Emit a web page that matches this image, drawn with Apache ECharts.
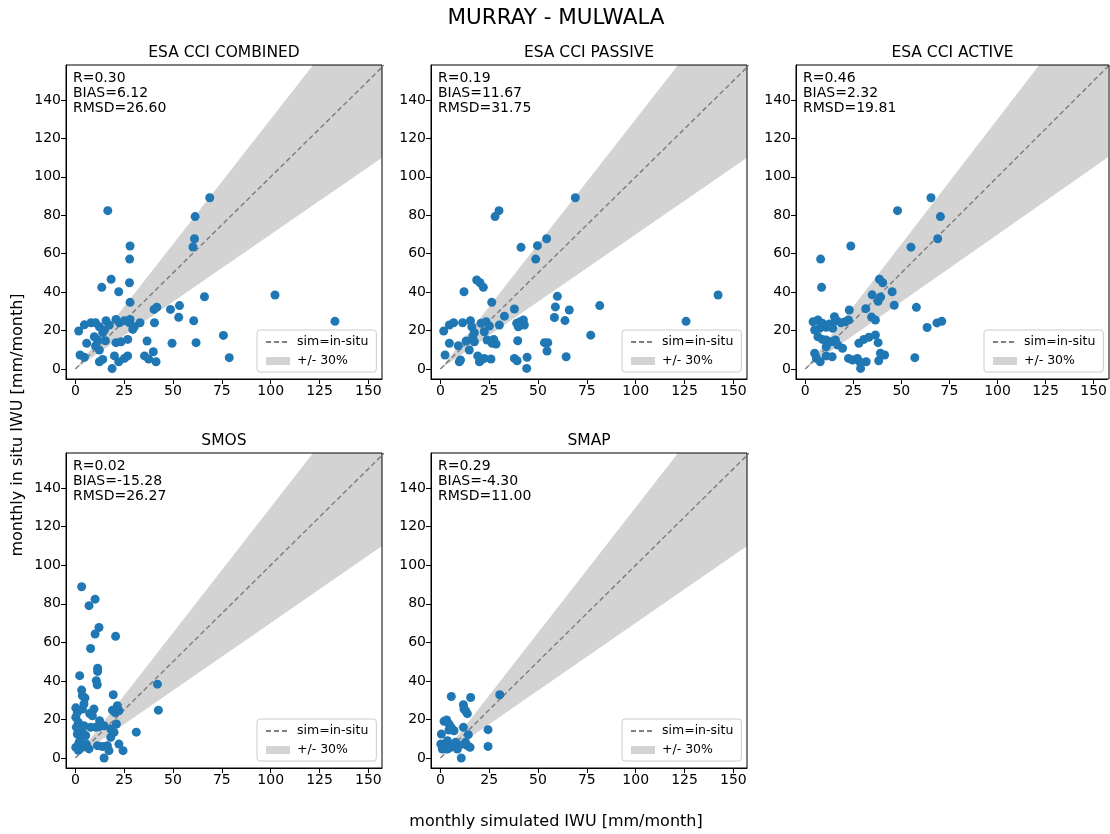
<!DOCTYPE html>
<html>
<head>
<meta charset="utf-8">
<script src="https://cdn.jsdelivr.net/npm/echarts@6/dist/echarts.min.js"></script>
<style>
html,body{margin:0;padding:0;background:#fff;}
#chart{width:1110px;height:834px;}
</style>
</head>
<body>
<div id="chart"></div>
<script>
// ---------------- DATA ----------------
const figureTitle = 'MURRAY - MULWALA';
const xAxisTitle = 'monthly simulated IWU [mm/month]';
const yAxisTitle = 'monthly in situ IWU [mm/month]';
const panelNames = ['ESA CCI COMBINED', 'ESA CCI PASSIVE', 'ESA CCI ACTIVE', 'SMOS', 'SMAP'];
const statR = ['0.30', '0.19', '0.46', '0.02', '0.29'];
const statBias = ['6.12', '11.67', '2.32', '-15.28', '-4.30'];
const statRmsd = ['26.60', '31.75', '19.81', '26.27', '11.00'];
const xTicks = [0, 25, 50, 75, 100, 125, 150];
const yTicks = [0, 20, 40, 60, 80, 100, 120, 140];
const identityX = [0, 160];
const bandLow = 0.7;
const bandHigh = 1.3;
const lineLegend = 'sim=in-situ';
const bandLegend = '+/- 30%';

const combinedPts = [[16.6,82.4],[68.8,89.1],[61.3,79.3],[61.0,67.8],[60.2,63.5],[28.0,64.0],[27.8,57.2],[18.3,46.7],[27.7,44.9],[13.5,42.5],[22.2,40.2],[66.1,37.6],[102.2,38.5],[28.0,34.7],[40.3,31.0],[41.7,32.2],[53.3,33.0],[48.7,31.0],[52.9,26.9],[60.6,25.1],[132.9,24.8],[40.5,24.1],[33.1,24.1],[1.7,19.8],[4.6,23.0],[8.0,24.1],[10.3,24.1],[12.3,22.0],[15.7,25.1],[14.9,20.3],[20.8,25.8],[22.5,24.1],[25.1,25.1],[27.7,24.1],[28.0,25.8],[30.2,22.0],[29.4,20.6],[17.4,22.9],[14.0,18.9],[9.7,16.8],[11.4,15.1],[15.4,14.7],[5.8,13.4],[20.8,13.7],[23.4,14.2],[26.8,15.4],[36.7,14.6],[49.5,13.4],[61.8,13.7],[75.8,17.5],[10.3,12.0],[12.3,9.9],[2.4,7.3],[4.6,6.1],[14.0,5.0],[12.3,3.8],[20.0,6.8],[22.2,3.8],[25.1,5.5],[26.8,6.8],[35.4,6.8],[39.9,9.0],[37.5,5.2],[41.3,3.8],[18.8,0.2],[78.8,5.9]];
const passivePts = [[69.1,89.1],[30.0,82.4],[28.0,79.3],[54.4,67.8],[49.7,64.2],[41.3,63.3],[48.8,57.2],[18.6,46.3],[20.3,44.9],[22.0,42.5],[12.1,40.2],[26.3,34.7],[59.9,37.8],[58.9,32.3],[81.6,33.0],[66.0,30.7],[142.2,38.5],[37.9,31.2],[32.8,27.5],[58.4,26.8],[63.8,25.2],[125.8,24.8],[77.0,17.6],[39.1,23.8],[40.8,24.6],[42.5,25.5],[39.9,22.0],[43.0,22.9],[30.2,22.9],[1.7,19.8],[4.6,22.9],[6.8,24.1],[11.4,24.1],[15.4,25.1],[16.1,22.0],[20.8,23.8],[23.4,24.6],[25.1,22.4],[22.5,19.4],[17.4,18.9],[16.6,16.8],[17.4,14.2],[13.2,14.6],[9.2,12.1],[4.6,13.4],[23.9,15.1],[27.3,15.4],[28.5,13.0],[26.5,13.4],[39.6,14.7],[53.3,13.7],[55.0,13.7],[54.6,9.4],[64.4,6.4],[44.4,6.1],[44.2,0.3],[37.9,5.5],[39.3,4.3],[2.4,7.3],[10.3,4.7],[9.7,3.8],[19.1,6.8],[20.8,4.7],[22.5,5.5],[20.0,3.8],[25.9,5.2],[14.8,9.9]];
const activePts = [[65.4,89.1],[48.0,82.4],[70.3,79.3],[68.9,67.8],[55.0,63.4],[23.7,64.0],[8.0,57.2],[8.5,42.5],[38.6,46.7],[40.3,44.9],[45.2,40.2],[34.8,38.6],[37.9,35.2],[39.2,37.5],[46.3,33.2],[57.8,32.1],[31.5,31.4],[22.9,30.7],[34.5,27.0],[36.5,25.5],[63.4,21.6],[68.5,24.0],[71.0,24.8],[57.0,5.9],[4.1,24.6],[6.6,25.5],[8.9,23.8],[7.5,21.2],[4.9,20.3],[10.9,21.7],[12.6,23.4],[15.2,27.2],[16.4,25.1],[18.6,24.1],[20.8,24.6],[22.5,25.5],[14.3,21.2],[6.6,16.8],[8.9,15.4],[10.9,15.1],[13.5,14.2],[15.7,15.1],[16.9,12.5],[19.4,10.8],[10.9,11.6],[4.9,8.2],[5.8,5.5],[7.8,3.8],[10.9,6.8],[14.0,6.4],[22.5,5.5],[24.6,4.7],[27.1,5.5],[28.3,3.8],[28.8,0.3],[31.7,3.8],[27.9,13.4],[30.5,15.4],[33.1,16.5],[36.5,17.7],[37.9,13.7],[39.1,8.2],[41.3,7.3],[38.2,4.3]];
const smosPts = [[3.2,88.8],[10.1,82.4],[7.0,79.0],[12.1,67.7],[10.1,64.3],[20.6,63.1],[7.8,56.8],[11.4,46.6],[11.4,44.9],[10.7,40.1],[11.2,38.0],[2.2,42.7],[42.0,38.3],[3.2,35.2],[3.6,32.3],[4.9,31.1],[19.4,32.8],[42.5,24.8],[0.2,26.0],[1.0,23.6],[0.2,21.1],[1.5,18.5],[4.4,28.0],[3.6,25.4],[7.3,23.1],[9.5,25.4],[8.7,21.9],[19.0,24.8],[21.5,27.1],[22.3,24.5],[20.3,23.6],[12.4,19.3],[21.0,17.6],[18.1,15.0],[19.8,13.3],[18.1,10.7],[4.4,16.7],[7.8,15.9],[10.4,15.9],[12.1,16.2],[14.7,16.7],[31.2,13.4],[1.0,12.4],[3.6,13.3],[2.7,10.7],[5.3,11.6],[1.9,8.1],[0.2,5.5],[3.2,5.5],[5.6,7.2],[7.0,4.7],[11.3,6.4],[13.8,5.9],[16.4,6.4],[17.2,3.8],[22.3,7.2],[24.4,3.8],[14.7,0.0],[1.5,4.0],[0.5,16.0]];
const smapPts = [[5.6,31.9],[15.5,31.4],[30.4,32.8],[11.8,27.6],[12.9,24.5],[13.8,23.0],[12.1,25.4],[1.9,19.0],[3.2,19.7],[4.4,17.6],[6.1,15.0],[7.0,14.1],[4.4,14.5],[5.3,16.1],[0.5,12.4],[11.8,15.9],[14.3,12.1],[24.4,14.7],[24.4,6.0],[0.2,7.2],[1.9,6.4],[1.0,4.6],[3.6,4.6],[2.7,7.2],[5.3,5.5],[8.7,4.6],[9.5,6.4],[12.1,7.2],[13.8,6.4],[15.2,5.5],[12.9,8.1],[7.8,8.1],[10.7,0.0],[3.6,9.0]];
const panelPoints = [combinedPts, passivePts, activePts, smosPts, smapPts];

// ---------------- LAYOUT / STYLE ----------------
const FONT = 'DejaVu Sans';
const grids = [
  {left: 66, top: 65, width: 316, height: 314},
  {left: 431, top: 65, width: 316, height: 314},
  {left: 796, top: 65, width: 313, height: 314},
  {left: 66, top: 453, width: 316, height: 315},
  {left: 431, top: 453, width: 316, height: 315}
];
const xRange = [-4.8, 157];
const yRange = [-5.2, 158.2];
const dotColor = '#1f77b4';
const bandColor = '#d3d3d3';
const lineColor = '#808080';

const chart = echarts.init(document.getElementById('chart'), null, {renderer: 'canvas'});

const option = {
  backgroundColor: '#ffffff',
  animation: false,
  textStyle: {fontFamily: FONT},
  grid: grids.map(g => ({left: g.left, top: g.top, width: g.width, height: g.height, containLabel: false})),
  xAxis: grids.map((g, i) => ({
    type: 'value', gridIndex: i, min: xRange[0], max: xRange[1],
    axisLine: {show: true, onZero: false, lineStyle: {color: '#000', width: 1}},
    axisTick: {show: true, length: 5, customValues: xTicks, lineStyle: {color: '#000', width: 1}},
    axisLabel: {customValues: xTicks, color: '#000', fontSize: 14, fontFamily: FONT, margin: 5, showMinLabel: true, showMaxLabel: true},
    splitLine: {show: false}
  })),
  yAxis: grids.map((g, i) => ({
    type: 'value', gridIndex: i, min: yRange[0], max: yRange[1],
    axisLine: {show: true, onZero: false, lineStyle: {color: '#000', width: 1}},
    axisTick: {show: true, length: 5, customValues: yTicks, lineStyle: {color: '#000', width: 1}},
    axisLabel: {customValues: yTicks, color: '#000', fontSize: 14, fontFamily: FONT, margin: 5},
    splitLine: {show: false}
  })),
  legend: grids.map(g => ({
    orient: 'vertical',
    left: g.left + g.width - 125,
    top: g.top + g.height - 49,
    padding: [5, 8, 4, 8],
    itemGap: 5,
    itemWidth: 24,
    itemHeight: 8,
    backgroundColor: 'rgba(255,255,255,0.8)',
    borderColor: '#cccccc',
    borderWidth: 1,
    borderRadius: 3,
    selectedMode: false,
    textStyle: {fontFamily: FONT, fontSize: 12.5, color: '#000', lineHeight: 14, padding: [0, 0, 0, 2]},
    data: [{name: lineLegend, itemStyle: {opacity: 0}}, {name: bandLegend, icon: 'rect'}]
  })),
  series: [],
  graphic: []
};

panelPoints.forEach((pts, i) => {
  const bandData = identityX.map(x => [x, bandLow * x, bandHigh * x]);
  option.series.push({
    type: 'custom',
    name: bandLegend,
    xAxisIndex: i, yAxisIndex: i,
    clip: true,
    z: 1,
    itemStyle: {color: bandColor},
    data: bandData,
    encode: {x: 0, y: [1, 2]},
    renderItem: function (params, api) {
      if (params.dataIndex !== 0) return null;
      const up = bandData.map(d => api.coord([d[0], d[2]]));
      const lo = bandData.map(d => api.coord([d[0], d[1]])).reverse();
      return {type: 'polygon', shape: {points: up.concat(lo)}, style: {fill: bandColor}};
    }
  });
  option.series.push({
    type: 'line',
    name: lineLegend,
    xAxisIndex: i, yAxisIndex: i,
    data: identityX.map(x => [x, x]),
    symbol: 'none',
    clip: true,
    z: 2,
    lineStyle: {color: lineColor, width: 1.5, type: [5, 3]},
    itemStyle: {color: lineColor}
  });
  option.series.push({
    type: 'scatter',
    name: panelNames[i],
    xAxisIndex: i, yAxisIndex: i,
    data: pts,
    symbol: 'circle',
    symbolSize: 9,
    z: 3,
    itemStyle: {color: dotColor, opacity: 1}
  });
  const g = grids[i];
  option.graphic.push({
    type: 'text', left: g.left + 7, top: g.top + 6, z: 50,
    style: {text: 'R=' + statR[i] + '\nBIAS=' + statBias[i] + '\nRMSD=' + statRmsd[i],
            font: '14px "' + FONT + '"', fill: '#000', lineHeight: 15}
  });
  option.graphic.push({
    type: 'text', x: g.left + g.width / 2, y: g.top - 12, z: 50,
    style: {text: panelNames[i], font: '15.5px "' + FONT + '"', fill: '#000', align: 'center', verticalAlign: 'middle'}
  });
  option.graphic.push({
    type: 'rect', z: 60, silent: true,
    shape: {x: g.left, y: g.top, width: g.width, height: g.height},
    style: {fill: 'none', stroke: '#000', lineWidth: 1}
  });
});

option.graphic.push({
  type: 'text', x: 556, y: 18, z: 50,
  style: {text: figureTitle, font: '21.5px "' + FONT + '"', fill: '#000', align: 'center', verticalAlign: 'middle'}
});
option.graphic.push({
  type: 'text', x: 556, y: 822, z: 50,
  style: {text: xAxisTitle, font: '16px "' + FONT + '"', fill: '#000', align: 'center', verticalAlign: 'middle'}
});
option.graphic.push({
  type: 'text', x: 18, y: 425, rotation: Math.PI / 2, z: 50,
  style: {text: yAxisTitle, font: '16px "' + FONT + '"', fill: '#000', align: 'center', verticalAlign: 'middle'}
});

chart.setOption(option);
</script>
</body>
</html>
